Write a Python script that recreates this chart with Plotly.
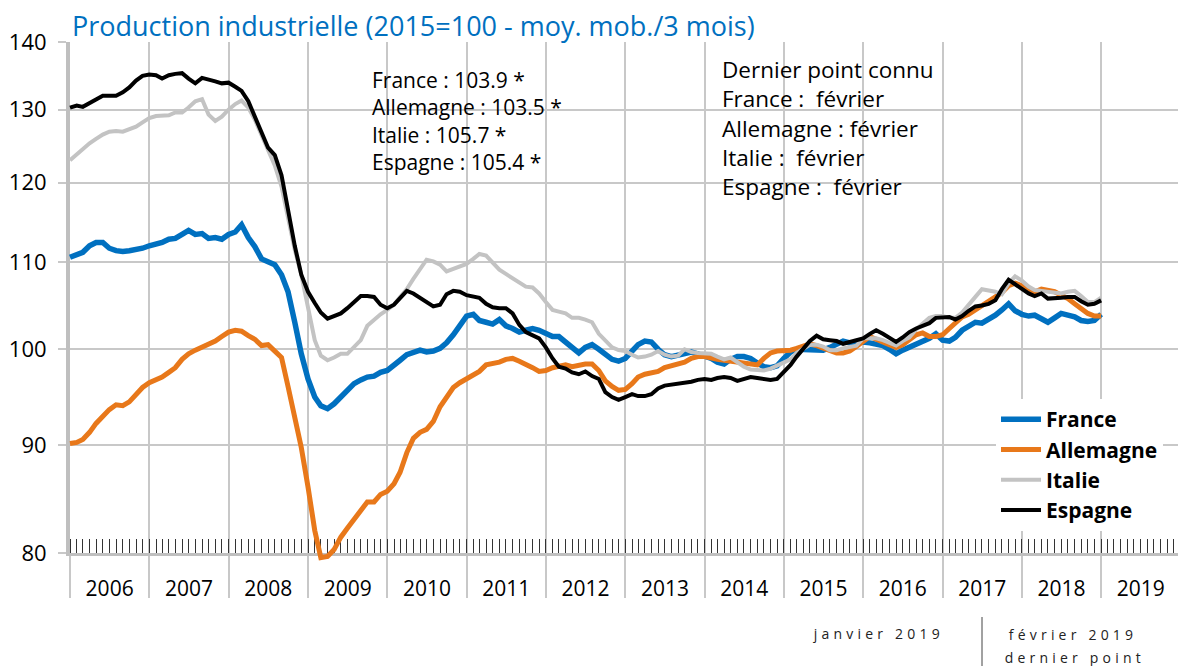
import numpy as np
import pandas as pd
import plotly.graph_objects as go

# ---------------- data ----------------
months = pd.date_range("2006-01-01", periods=157, freq="MS")

france = [
    110.6, 110.9, 111.2, 112.0, 112.4, 112.4, 111.7, 111.4, 111.3, 111.4, 111.5, 111.7,
    112.0, 112.2, 112.4, 112.8, 112.9, 113.4, 113.9, 113.4, 113.5, 112.9, 113.0, 112.8,
    113.4, 113.7, 114.6, 113.0, 111.9, 110.4, 110.1, 109.7, 108.5, 106.5, 103.0, 99.5,
    96.8, 94.9, 94.0, 93.7, 94.2, 94.9, 95.6, 96.3, 96.7, 97.0, 97.1, 97.5,
    97.7, 98.2, 98.8, 99.4, 99.6, 99.9, 99.7, 99.8, 100.1, 100.7, 101.6, 102.6,
    103.7, 103.9, 103.2, 103.0, 102.8, 103.3, 102.6, 102.3, 101.9, 102.1, 102.3, 102.1,
    101.7, 101.4, 101.4, 100.8, 100.3, 99.6, 100.2, 100.5, 100.0, 99.4, 98.9, 98.7,
    99.0, 99.8, 100.5, 100.9, 100.8, 100.0, 99.4, 99.2, 99.4, 99.6, 99.7, 99.5,
    99.3, 99.0, 98.6, 98.4, 98.9, 99.2, 99.2, 99.0, 98.5, 98.1, 98.0, 98.2,
    99.0, 99.7, 100.0, 100.0, 100.0, 99.9, 99.9, 100.2, 100.6, 100.9, 100.7, 100.8,
    100.8, 100.7, 100.5, 100.4, 100.0, 99.5, 99.9, 100.2, 100.5, 100.8, 101.2, 101.7,
    101.0, 100.9, 101.3, 102.1, 102.6, 103.0, 102.9, 103.3, 103.8, 104.4, 105.1, 104.3,
    103.9, 103.7, 103.8, 103.4, 103.0, 103.5, 104.0, 103.8, 103.6, 103.2, 103.1, 103.2,
    103.9,
]

allemagne = [
    90.2, 90.3, 90.6, 91.3, 92.2, 92.9, 93.6, 94.1, 94.0, 94.4, 95.1, 95.9,
    96.4, 96.7, 97.0, 97.5, 98.0, 98.9, 99.5, 99.9, 100.2, 100.6, 100.9, 101.4,
    101.9, 102.1, 102.0, 101.5, 101.1, 100.4, 100.5, 99.8, 99.1, 96.0, 93.0, 89.8,
    86.0, 82.0, 79.6, 79.7, 80.3, 81.4, 82.2, 83.0, 83.8, 84.6, 84.6, 85.3,
    85.6, 86.3, 87.4, 89.3, 90.7, 91.3, 91.6, 92.4, 93.9, 95.0, 95.9, 96.4,
    96.8, 97.1, 97.6, 98.3, 98.4, 98.6, 98.9, 99.0, 98.7, 98.4, 98.0, 97.6,
    97.7, 98.0, 98.2, 98.3, 98.1, 98.3, 98.4, 98.4, 97.7, 96.6, 96.0, 95.6,
    95.7, 96.3, 97.0, 97.3, 97.4, 97.6, 98.0, 98.2, 98.3, 98.6, 99.0, 99.2,
    99.2, 99.0, 98.9, 98.8, 98.7, 98.6, 98.5, 98.3, 98.3, 99.0, 99.6, 99.8,
    99.8, 99.9, 100.1, 100.4, 100.6, 100.4, 100.1, 99.9, 99.6, 99.6, 99.8, 100.3,
    100.8, 101.4, 101.1, 100.8, 100.5, 100.2, 100.5, 101.0, 101.6, 101.8, 101.4, 101.4,
    101.6, 102.3, 102.9, 103.6, 103.9, 104.4, 105.0, 105.5, 106.0, 106.4, 107.2, 107.5,
    107.2, 106.8, 106.5, 106.8, 106.7, 106.5, 106.1, 105.7, 105.1, 104.5, 104.0, 103.7,
    103.7,
]

italie = [
    123.0, 123.8, 124.6, 125.3, 125.9, 126.5, 126.9, 127.0, 126.9, 127.3, 127.6, 128.2,
    128.8, 129.1, 129.2, 129.2, 129.6, 129.6, 130.3, 131.2, 131.5, 129.3, 128.4, 129.0,
    130.0, 130.8, 131.3, 130.3, 128.6, 126.5, 124.3, 122.3, 119.5, 115.5, 111.5, 108.5,
    104.5, 101.0, 99.3, 98.8, 99.1, 99.5, 99.5, 100.2, 101.0, 102.6, 103.3, 103.9,
    104.4, 105.0, 105.9, 106.8, 108.0, 109.2, 110.3, 110.1, 109.7, 108.9, 109.2, 109.5,
    109.8, 110.4, 111.0, 110.8, 110.0, 109.1, 108.6, 108.1, 107.5, 107.1, 107.0, 106.3,
    105.3, 104.4, 104.2, 104.0, 103.5, 103.5, 103.3, 103.0, 101.7, 100.9, 100.2, 99.9,
    99.8, 99.4, 99.1, 99.2, 99.4, 99.8, 99.4, 99.2, 99.3, 100.0, 99.7, 99.6,
    99.6, 99.5, 99.2, 98.9, 99.1, 98.6, 98.1, 97.8, 97.7, 97.7, 97.9, 98.2,
    98.5, 98.9, 99.6, 100.1, 100.5, 100.5, 100.3, 99.9, 99.9, 100.1, 100.3, 100.4,
    101.2, 101.2, 101.2, 101.0, 100.7, 100.4, 100.9, 101.3, 102.2, 102.9, 103.5, 103.7,
    103.7, 103.5, 103.5, 104.1, 104.9, 105.9, 106.8, 106.7, 106.5, 106.2, 107.5, 108.3,
    107.8, 107.1, 106.7, 106.6, 106.5, 106.4, 106.3, 106.5, 106.6, 106.0, 105.3, 105.3,
    105.8,
]

espagne = [
    130.3, 130.6, 130.4, 130.9, 131.5, 132.0, 132.0, 132.0, 132.5, 133.2, 134.2, 134.9,
    135.1, 135.0, 134.5, 135.0, 135.2, 135.3, 134.5, 133.8, 134.6, 134.4, 134.1, 133.8,
    133.9, 133.3, 132.7, 131.2, 129.0, 126.8, 124.7, 123.7, 121.0, 116.5, 112.0, 108.5,
    106.5, 105.2, 104.1, 103.4, 103.7, 104.0, 104.6, 105.3, 106.0, 106.0, 105.9, 105.0,
    104.6, 105.0, 105.8, 106.6, 106.3, 105.8, 105.3, 104.8, 105.0, 106.2, 106.6, 106.5,
    106.1, 106.0, 105.8, 105.1, 104.7, 104.6, 104.6, 104.0, 102.7, 101.9, 101.6, 101.2,
    100.2, 99.0, 98.1, 97.9, 97.5, 97.3, 97.6, 97.1, 96.8, 95.4, 94.9, 94.6,
    94.9, 95.2, 95.0, 95.0, 95.2, 95.8, 96.1, 96.2, 96.2, 96.3, 96.5, 96.7,
    96.8, 96.7, 96.9, 97.0, 96.9, 96.6, 96.8, 97.0, 96.9, 96.8, 96.7, 96.8,
    97.5, 98.3, 99.2, 100.0, 100.9, 101.5, 101.1, 101.0, 100.9, 100.6, 100.8, 101.0,
    101.2, 101.7, 102.1, 101.7, 101.3, 100.8, 101.3, 101.9, 102.3, 102.6, 102.9, 103.5,
    103.6, 103.6, 103.3, 103.7, 104.3, 104.8, 104.9, 105.1, 105.5, 106.8, 107.9, 107.4,
    106.9, 106.3, 106.0, 106.3, 105.7, 105.7, 105.8, 105.9, 105.9, 105.4, 105.0, 105.1,
    105.5,
]

series_names = ["France", "Allemagne", "Italie", "Espagne"]
series_values = [france, allemagne, italie, espagne]
series_colors = ["#0070C0", "#E8781A", "#C3C3C3", "#000000"]
series_widths = [5.5, 5, 4, 4]

y_ticks = [80, 90, 100, 110, 120, 130, 140]

box1_lines = ["France : 103.9 *", "Allemagne : 103.5 *", "Italie : 105.7 *", "Espagne : 105.4 *"]
box2_lines = ["Dernier point connu", "France :  février", "Allemagne : février",
              "Italie :  février", "Espagne :  février"]

title_text = "Production industrielle (2015=100 - moy. mob./3 mois)"

# ---------------- figure ----------------
W, H = 1178, 666
L, R, T, B = 70, 0, 42, 113
PW, PH = W - L - R, H - T - B


def px(x):
    return (x - L) / PW


def py(y):
    return (H - B - y) / PH


FONT = "'Open Sans', 'Noto Sans', sans-serif"

fig = go.Figure()
for name, vals, col, w in zip(series_names, series_values, series_colors, series_widths):
    fig.add_trace(go.Scatter(x=months, y=vals, name=name, mode="lines",
                             line=dict(color=col, width=w)))

annotations = []
annotations.append(dict(text=title_text, xref="paper", yref="paper", x=px(70), y=py(25),
                        xanchor="left", yanchor="middle", showarrow=False,
                        font=dict(size=27, color="#0070C0", family=FONT)))
annotations.append(dict(text="<br>".join(box1_lines), xref="paper", yref="paper",
                        x=px(370), y=py(121), xanchor="left", yanchor="middle",
                        align="left", showarrow=False,
                        font=dict(size=21, color="black", family=FONT)))
annotations.append(dict(text="<br>".join(box2_lines), xref="paper", yref="paper",
                        x=px(720), y=py(128), xanchor="left", yanchor="middle",
                        align="left", showarrow=False,
                        font=dict(size=22.5, color="black", family=FONT)))
annotations.append(dict(text="janvier 2019", xref="paper", yref="paper", x=px(878), y=py(633),
                        xanchor="center", yanchor="middle", showarrow=False,
                        font=dict(size=14, color="#222", family=FONT)))
annotations.append(dict(text="février 2019", xref="paper", yref="paper", x=px(1073), y=py(634),
                        xanchor="center", yanchor="middle", showarrow=False,
                        font=dict(size=14, color="#222", family=FONT)))
annotations.append(dict(text="dernier point", xref="paper", yref="paper", x=px(1075), y=py(657),
                        xanchor="center", yanchor="middle", showarrow=False,
                        font=dict(size=14, color="#222", family=FONT)))

shapes = [dict(type="line", xref="paper", yref="paper", x0=px(982), x1=px(982),
               y0=py(617), y1=py(666), line=dict(color="#444", width=1))]

fig.update_layout(
    width=W, height=H,
    margin=dict(l=L, r=R, t=T, b=B, autoexpand=False),
    plot_bgcolor="white", paper_bgcolor="white",
    font=dict(family=FONT, color="black"),
    showlegend=True,
    legend=dict(x=px(996), y=py(399), xanchor="left", yanchor="top",
                bgcolor="white", borderwidth=0, tracegroupgap=0,
                font=dict(size=21, family=FONT, color="black", weight="bold"),
                itemwidth=40),
    annotations=annotations,
    shapes=shapes,
    xaxis=dict(
        type="date", range=["2006-01-01", "2019-12-21"],
        tick0="2006-01-01", dtick="M12", tickformat="%Y", ticklabelmode="period",
        ticks="outside", ticklen=42, tickwidth=2, tickcolor="#c8c8c8",
        showgrid=True, gridcolor="#c8c8c8", gridwidth=2,
        showline=True, linecolor="#bfbfbf", linewidth=3,
        tickfont=dict(size=21, family=FONT, color="black"),
        ticklabelstandoff=-27,
        minor=dict(dtick="M1", tick0="2006-01-01", ticks="inside", ticklen=14,
                   tickwidth=1, tickcolor="#333", showgrid=False),
        zeroline=False, fixedrange=True, layer="below traces",
    ),
    yaxis=dict(
        type="log", range=[np.log10(80), np.log10(140)],
        tickvals=y_ticks, ticktext=[str(v) for v in y_ticks],
        ticks="outside", ticklen=8, tickwidth=2, tickcolor="#c8c8c8",
        showgrid=True, gridcolor="#c8c8c8", gridwidth=2,
        showline=True, linecolor="#bfbfbf", linewidth=4,
        tickfont=dict(size=22, family=FONT, color="black"),
        ticklabelstandoff=7,
        zeroline=False, fixedrange=True, layer="below traces",
    ),
)

post = """
document.body.style.margin = '0';
document.body.style.padding = '0';
document.querySelectorAll('[clip-path]').forEach(function(e){
  var c = e.getAttribute('clip-path') || '';
  if (c.indexOf('xyplot') >= 0) { e.removeAttribute('clip-path'); }
});
document.querySelectorAll('.annotation-text').forEach(function(t){
  var s = t.textContent;
  if (s === 'janvier 2019' || s === 'février 2019' || s === 'dernier point') {
    t.setAttribute('letter-spacing', '4.2px');
  }
});
"""

fig.write_html("out.html", config={"displayModeBar": False}, post_script=post)
